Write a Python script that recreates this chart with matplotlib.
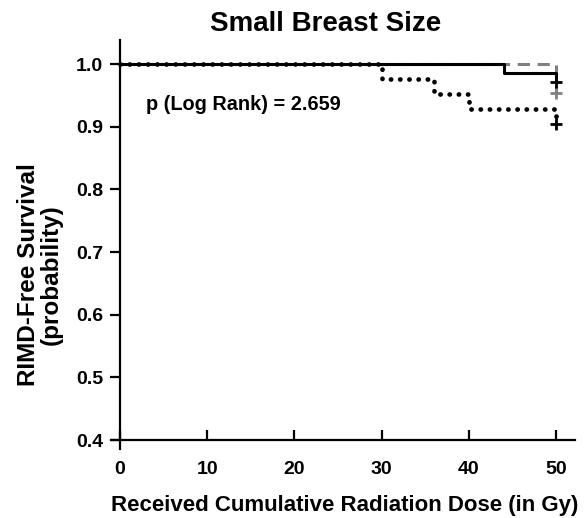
import matplotlib.pyplot as plt

plt.rcParams['font.family'] = ['Liberation Sans', 'DejaVu Sans']
plt.rcParams['font.weight'] = 'bold'

# Kaplan-Meier step data (dose in Gy, survival probability)
solid_t = [0, 44, 50]
solid_s = [1.0, 0.986, 0.972]
dashed_t = [0, 50]
dashed_s = [1.0, 0.954]
dotted_t = [0, 30, 36, 40, 50]
dotted_s = [1.0, 0.976, 0.952, 0.928, 0.905]

xticks = [0, 10, 20, 30, 40, 50]
yticks = [0.4, 0.5, 0.6, 0.7, 0.8, 0.9, 1.0]

fig = plt.figure(figsize=(5.84, 5.18), dpi=100)
ax = fig.add_axes([0.1906, 0.1324, 0.794, 0.790])

ax.step(dashed_t, dashed_s, where='post', color='#808080', lw=2.2,
        linestyle=(0, (4, 2.5)))
ax.step(solid_t, solid_s, where='post', color='black', lw=2.2)
ax.step(dotted_t, dotted_s, where='post', color='black', lw=3.4,
        linestyle=(0, (0.05, 1.9)), dash_capstyle='round')

# censor marks
ax.plot(dashed_t[-1], dashed_s[-1], marker='+', color='#808080', ms=8, mew=2)
ax.plot(solid_t[-1], solid_s[-1], marker='+', color='black', ms=8, mew=2)
ax.plot(dotted_t[-1], dotted_s[-1], marker='+', color='black', ms=8, mew=2)

ax.set_xlim(-1, 52.2)
ax.set_ylim(0.385, 1.038)
ax.spines['left'].set_position(('data', 0))
ax.spines['bottom'].set_position(('data', 0.4))
ax.spines['top'].set_visible(False)
ax.spines['right'].set_visible(False)
for s in ('left', 'bottom'):
    ax.spines[s].set_linewidth(1.6)

ax.set_xticks(xticks)
ax.set_yticks(yticks)
ax.set_yticklabels([f'{v:.1f}' for v in yticks])
ax.tick_params(axis='x', direction='in', length=7, width=1.6, labelsize=14, pad=15)
ax.tick_params(axis='y', direction='out', length=7, width=1.6, labelsize=14, pad=5)

ax.text(14.1, 0.935, 'p (Log Rank) = 2.659', ha='center', va='center',
        fontsize=14.3, fontweight='bold')

fig.text(326 / 584, 1 - 24 / 518, 'Small Breast Size', ha='center', va='center',
         fontsize=20, fontweight='bold')
fig.text(345 / 584, 1 - 506 / 518, 'Received Cumulative Radiation Dose (in Gy)',
         ha='center', va='center', fontsize=16, fontweight='bold')
fig.text(40 / 584, 1 - 275 / 518, 'RIMD-Free Survival\n(probability)',
         ha='center', va='center', rotation=90, fontsize=17.5,
         fontweight='bold', linespacing=0.95)

fig.savefig('out.png', dpi=100)
